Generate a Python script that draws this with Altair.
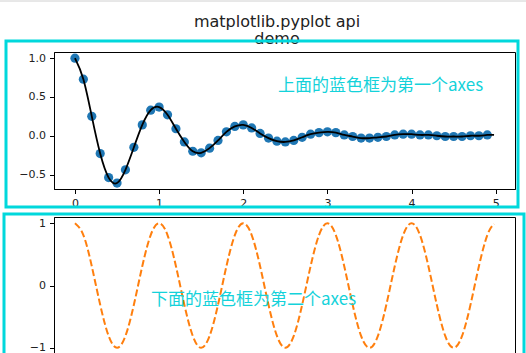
import altair as alt
import pandas as pd

# ---- data ----
t1 = [0.0, 0.1, 0.2, 0.3, 0.4, 0.5, 0.6, 0.7, 0.8, 0.9,
      1.0, 1.1, 1.2, 1.3, 1.4, 1.5, 1.6, 1.7, 1.8, 1.9,
      2.0, 2.1, 2.2, 2.3, 2.4, 2.5, 2.6, 2.7, 2.8, 2.9,
      3.0, 3.1, 3.2, 3.3, 3.4, 3.5, 3.6, 3.7, 3.8, 3.9,
      4.0, 4.1, 4.2, 4.3, 4.4, 4.5, 4.6, 4.7, 4.8, 4.9]
f1 = [1.00, 0.73, 0.25, -0.23, -0.54, -0.61, -0.44, -0.15, 0.14, 0.33,
      0.37, 0.27, 0.09, -0.08, -0.20, -0.22, -0.16, -0.06, 0.05, 0.12,
      0.14, 0.10, 0.03, -0.03, -0.07, -0.08, -0.06, -0.02, 0.02, 0.04,
      0.05, 0.04, 0.01, -0.01, -0.03, -0.03, -0.02, -0.01, 0.01, 0.02,
      0.02, 0.01, 0.01, 0.00, -0.01, -0.01, -0.01, 0.00, 0.00, 0.01]

t2 = t1 + [4.98]
f2 = f1 + [0.01]
g2 = [1.00, 0.81, 0.31, -0.31, -0.81, -1.00, -0.81, -0.31, 0.31, 0.81,
      1.00, 0.81, 0.31, -0.31, -0.81, -1.00, -0.81, -0.31, 0.31, 0.81,
      1.00, 0.81, 0.31, -0.31, -0.81, -1.00, -0.81, -0.31, 0.31, 0.81,
      1.00, 0.81, 0.31, -0.31, -0.81, -1.00, -0.81, -0.31, 0.31, 0.81,
      1.00, 0.81, 0.31, -0.31, -0.81, -1.00, -0.81, -0.31, 0.31, 0.81,
      0.99]

x_ticks = [0, 1, 2, 3, 4, 5]
top_y_ticks = [-0.5, 0.0, 0.5, 1.0]
bot_y_ticks = [-1, 0, 1]

title_lines = ["matplotlib.pyplot api", "demo"]
top_note = "上面的蓝色框为第一个axes"
bottom_note = "下面的蓝色框为第二个axes"

pts = pd.DataFrame({"t": t1, "f": f1})
line1 = pd.DataFrame({"t": t2, "f": f2})
line2 = pd.DataFrame({"t": t2, "g": g2})
one = pd.DataFrame({"k": [0]})

W, H1, H2 = 461, 137, 137
CYAN = "#00D8DC"
NOTE = "#14D2DA"

xs = alt.Scale(domain=[-0.249, 5.229], nice=False, zero=False)
y1s = alt.Scale(domain=[-0.687, 1.080], nice=False, zero=False)
y2s = alt.Scale(domain=[-1.1, 1.1], nice=False, zero=False)

xaxis = alt.Axis(values=x_ticks, format="d", title=None)

top_points = alt.Chart(pts).mark_circle(size=85, color="#1f77b4", opacity=1).encode(
    x=alt.X("t:Q", scale=xs, axis=xaxis),
    y=alt.Y("f:Q", scale=y1s, axis=alt.Axis(values=top_y_ticks, format=".1f", title=None)),
)
top_line = alt.Chart(line1).mark_line(color="black", strokeWidth=1.8, interpolate="natural").encode(
    x=alt.X("t:Q", scale=xs),
    y=alt.Y("f:Q", scale=y1s),
)
title1 = alt.Chart(one).mark_text(text=title_lines[0], font="DejaVu Sans", fontSize=16,
                                  color="#222", align="center", baseline="alphabetic").encode(
    x=alt.value(223), y=alt.value(-25))
title2 = alt.Chart(one).mark_text(text=title_lines[1], font="DejaVu Sans", fontSize=16,
                                  color="#222", align="center", baseline="alphabetic").encode(
    x=alt.value(223), y=alt.value(-8))
note1 = alt.Chart(one).mark_text(text=top_note, font="Noto Sans CJK SC", fontSize=17,
                                 color=NOTE, align="left", baseline="middle").encode(
    x=alt.value(224), y=alt.value(34))
box1 = alt.Chart(one).mark_rect(fillOpacity=0, stroke=CYAN, strokeWidth=3).encode(
    x=alt.value(-48), x2=alt.value(464), y=alt.value(-11), y2=alt.value(155))
grayline = alt.Chart(one).mark_rule(color="#d0d0d0", strokeWidth=1).encode(
    x=alt.value(-54), x2=alt.value(472), y=alt.value(-51))

top = alt.layer(top_points, top_line, title1, title2, box1, note1, grayline).properties(width=W, height=H1)

bot_line = alt.Chart(line2).mark_line(color="#ff7f0e", strokeWidth=2, strokeDash=[7, 3],
                                      interpolate="natural").encode(
    x=alt.X("t:Q", scale=xs, axis=xaxis),
    y=alt.Y("g:Q", scale=y2s, axis=alt.Axis(values=bot_y_ticks, format="d", title=None)),
)
note2 = alt.Chart(one).mark_text(text=bottom_note, font="Noto Sans CJK SC", fontSize=17,
                                 color=NOTE, align="left", baseline="middle").encode(
    x=alt.value(97), y=alt.value(83))
box2 = alt.Chart(one).mark_rect(fillOpacity=0, stroke=CYAN, strokeWidth=3).encode(
    x=alt.value(-50), x2=alt.value(470), y=alt.value(-3), y2=alt.value(170))

bottom = alt.layer(bot_line, note2, box2).properties(width=W, height=H2)

chart = alt.vconcat(top, bottom, spacing=28, bounds="flush").properties(
    padding={"left": 54, "top": 52, "right": 11, "bottom": 301},
    autosize=alt.AutoSizeParams(type="none"),
    background="white",
).configure_view(stroke="black", strokeWidth=1).configure_axis(
    grid=False, domainColor="black", domainWidth=1, tickColor="black", tickWidth=1,
    tickSize=4.5, labelFont="DejaVu Sans", labelFontSize=11, labelColor="#222",
    labelPadding=4,
)

chart.save("out.html", embed_options={"renderer": "svg", "actions": False})
